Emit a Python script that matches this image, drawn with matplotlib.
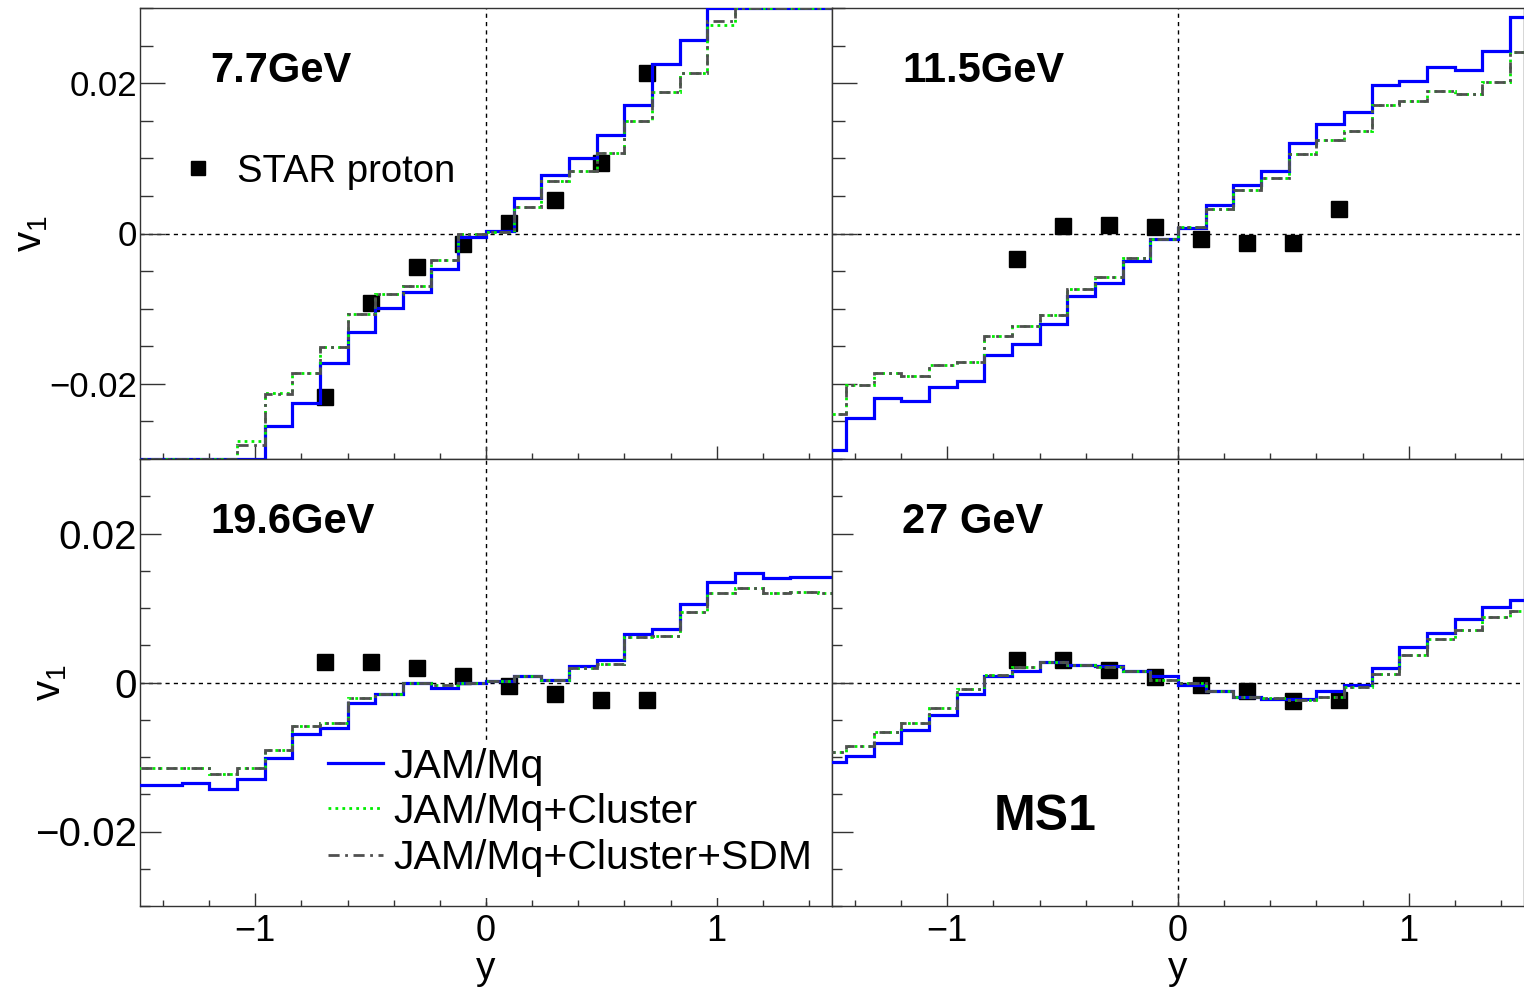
import numpy as np
import matplotlib
matplotlib.use('Agg')
from matplotlib import pyplot as plt
from matplotlib.ticker import MultipleLocator, FixedLocator
from matplotlib.patches import Rectangle

#-- DATA
# bin edges of the model histograms (k*0.12, k=-13..13)
edges = np.arange(-13, 14) * 0.12
y_star = [-0.7, -0.5, -0.3, -0.1, 0.1, 0.3, 0.5, 0.7]
energies = ['7.7GeV', '11.5GeV', '19.6GeV', '27 GeV']

# 7.7 GeV
jam_77 = [-0.036, -0.035, -0.034, -0.033, -0.032, -0.0256, -0.0225, -0.0172, -0.0131, -0.0099, -0.0078, -0.0047, -0.0004,
          0.0003, 0.0047, 0.0078, 0.0100, 0.0131, 0.0171, 0.0225, 0.0258, 0.032, 0.034, 0.035, 0.036, 0.037]
clu_77 = [-0.033, -0.032, -0.032, -0.031, -0.0276, -0.0212, -0.0185, -0.0151, -0.0107, -0.0081, -0.0070, -0.0035, -0.0001,
          0.0002, 0.0035, 0.0070, 0.0083, 0.0107, 0.0150, 0.0188, 0.0214, 0.0277, 0.031, 0.032, 0.033, 0.034]
sdm_77 = [-0.033, -0.032, -0.032, -0.031, -0.0282, -0.0214, -0.0186, -0.0151, -0.0107, -0.0081, -0.0070, -0.0035, -0.0001,
          0.0002, 0.0035, 0.0070, 0.0083, 0.0107, 0.0150, 0.0188, 0.0214, 0.0283, 0.031, 0.032, 0.033, 0.034]
star_77 = [-0.0218, -0.0093, -0.0044, -0.0014, 0.0014, 0.0044, 0.0094, 0.0214]

# 11.5 GeV
jam_115 = [-0.0288, -0.0245, -0.0219, -0.0223, -0.0204, -0.0196, -0.0161, -0.0147, -0.0121, -0.0083, -0.0066, -0.0037, -0.0007,
           0.0007, 0.0038, 0.0065, 0.0083, 0.0120, 0.0146, 0.0161, 0.0198, 0.0203, 0.0222, 0.0218, 0.0243, 0.0288]
clu_115 = [-0.0240, -0.0202, -0.0185, -0.0190, -0.0175, -0.0171, -0.0136, -0.0123, -0.0108, -0.0074, -0.0058, -0.0032, -0.0007,
           0.0008, 0.0032, 0.0058, 0.0074, 0.0106, 0.0124, 0.0137, 0.0171, 0.0176, 0.0189, 0.0185, 0.0202, 0.0241]
sdm_115 = [-0.0240, -0.0202, -0.0185, -0.0190, -0.0175, -0.0171, -0.0136, -0.0123, -0.0108, -0.0074, -0.0058, -0.0032, -0.0007,
           0.0008, 0.0032, 0.0058, 0.0074, 0.0106, 0.0124, 0.0137, 0.0171, 0.0176, 0.0189, 0.0185, 0.0202, 0.0241]
star_115 = [-0.0034, 0.0010, 0.0011, 0.0008, -0.0007, -0.0012, -0.0012, 0.0032]

# 19.6 GeV
jam_196 = [-0.0138, -0.0138, -0.0135, -0.0143, -0.0130, -0.0101, -0.0069, -0.0061, -0.0027, -0.0016, 0.0000, -0.0007, 0.0000,
           0.0002, 0.0009, 0.0004, 0.0022, 0.0030, 0.0065, 0.0072, 0.0105, 0.0135, 0.0147, 0.0140, 0.0141, 0.0141]
clu_196 = [-0.0115, -0.0115, -0.0115, -0.0123, -0.0115, -0.0090, -0.0059, -0.0055, -0.0021, -0.0016, 0.0000, -0.0004, 0.0000,
           0.0002, 0.0009, 0.0004, 0.0020, 0.0025, 0.0061, 0.0063, 0.0095, 0.0120, 0.0127, 0.0120, 0.0121, 0.0120]
sdm_196 = [-0.0115, -0.0115, -0.0115, -0.0123, -0.0115, -0.0090, -0.0059, -0.0055, -0.0021, -0.0016, 0.0000, -0.0004, 0.0000,
           0.0002, 0.0009, 0.0004, 0.0020, 0.0025, 0.0061, 0.0063, 0.0095, 0.0120, 0.0127, 0.0120, 0.0121, 0.0120]
star_196 = [0.0027, 0.0028, 0.0019, 0.0009, -0.0005, -0.0016, -0.0023, -0.0023]

# 27 GeV
jam_27 = [-0.0107, -0.0099, -0.0081, -0.0064, -0.0044, -0.0016, 0.0009, 0.0016, 0.0027, 0.0024, 0.0022, 0.0016, 0.0009,
          -0.0004, -0.0012, -0.0020, -0.0022, -0.0022, -0.0012, -0.0004, 0.0020, 0.0048, 0.0067, 0.0085, 0.0101, 0.0111]
clu_27 = [-0.0093, -0.0085, -0.0067, -0.0055, -0.0034, -0.0009, 0.0010, 0.0021, 0.0027, 0.0024, 0.0021, 0.0016, 0.0004,
          -0.0001, -0.0012, -0.0019, -0.0021, -0.0023, -0.0019, -0.0006, 0.0012, 0.0037, 0.0058, 0.0071, 0.0088, 0.0096]
sdm_27 = [-0.0093, -0.0085, -0.0067, -0.0055, -0.0034, -0.0009, 0.0010, 0.0021, 0.0027, 0.0024, 0.0021, 0.0016, 0.0004,
          -0.0001, -0.0012, -0.0019, -0.0021, -0.0023, -0.0019, -0.0006, 0.0012, 0.0037, 0.0058, 0.0071, 0.0088, 0.0096]
star_27 = [0.0030, 0.0030, 0.0017, 0.0008, -0.0004, -0.0011, -0.0025, -0.0023]

jam = [jam_77, jam_115, jam_196, jam_27]
clu = [clu_77, clu_115, clu_196, clu_27]
sdm = [sdm_77, sdm_115, sdm_196, sdm_27]
star = [star_77, star_115, star_196, star_27]

labels = ['JAM/Mq', 'JAM/Mq+Cluster', 'JAM/Mq+Cluster+SDM']

#-- STYLE
plt.rcParams['font.family'] = ['Liberation Sans', 'DejaVu Sans']
plt.rcParams['mathtext.fontset'] = 'custom'
plt.rcParams['mathtext.rm'] = 'Liberation Sans'
plt.rcParams['axes.linewidth'] = 1.0
plt.rcParams['axes.edgecolor'] = '#333333'

YMIN, YMAX = -0.03, 0.03
c_jam = '#0000ff'
c_clu = '#00ee00'
c_sdm = '#505050'

fig = plt.figure(figsize=(15.24, 9.91), dpi=100)
W, H = 1524., 991.
pos = [(140, 8, 692, 451), (832, 8, 692, 451), (140, 459, 692, 447), (832, 459, 692, 447)]

for i in range(4):
    x0, y0, w, h = pos[i]
    ax = fig.add_axes([x0 / W, 1 - (y0 + h) / H, w / W, h / H])
    top = i < 2
    left = i % 2 == 0

    # histograms, values outside the frame are drawn on the frame edge
    ax.stairs(np.clip(jam[i], YMIN, YMAX), edges, color=c_jam, lw=2.3, zorder=3)
    ax.stairs(np.clip(clu[i], YMIN, YMAX), edges, color=c_clu, lw=2.0, ls=(0, (1, 1.5)), zorder=4)
    ax.stairs(np.clip(sdm[i], YMIN, YMAX), edges, color=c_sdm, lw=2.0, ls=(0, (4, 2, 1, 2)), zorder=5)
    ax.plot(y_star, star[i], 's', color='black', ms=11.5, zorder=2)

    ax.axhline(0, color='black', lw=1, ls=(0, (3, 3)), zorder=1)
    ax.axvline(0, color='black', lw=1, ls=(0, (3, 3)), zorder=1)

    ax.set_xlim(-1.5, 1.5)
    ax.set_ylim(YMIN, YMAX)
    ax.xaxis.set_major_locator(FixedLocator([-1, 0, 1]))
    ax.xaxis.set_minor_locator(MultipleLocator(0.2))
    ax.yaxis.set_major_locator(FixedLocator([-0.02, 0, 0.02]))
    ax.yaxis.set_minor_locator(MultipleLocator(0.005))

    ysz = 25 if top else 29
    ymaj = 18 if top else 15
    ax.tick_params(axis='y', which='major', direction='in', length=ymaj, width=1, pad=2, labelsize=ysz, colors='#333333', labelcolor='black')
    ax.tick_params(axis='y', which='minor', direction='in', length=ymaj / 2, width=1, colors='#333333')
    ax.tick_params(axis='x', which='major', direction='in', length=9.5, width=1, pad=6, labelsize=26, colors='#333333', labelcolor='black')
    ax.tick_params(axis='x', which='minor', direction='in', length=4.5, width=1, colors='#333333')

    ax.yaxis.set_major_formatter(plt.FuncFormatter(lambda v, p: '0' if abs(v) < 1e-9 else ('%.2f' % v).replace('-', '\u2212')))
    ax.xaxis.set_major_formatter(plt.FuncFormatter(lambda v, p: ('%d' % round(v)).replace('-', '\u2212')))

    if not left:
        ax.tick_params(axis='y', labelleft=False)
    else:
        ax.set_ylabel(r'$\mathrm{v_{1}}$', fontsize=29)
        if top:
            ax.yaxis.set_label_coords(-0.130, 0.5)
        else:
            ax.yaxis.set_label_coords(-0.103, 0.5)
    if top:
        ax.tick_params(axis='x', labelbottom=False)
    else:
        ax.set_xlabel('y', fontsize=28, labelpad=1)

    ax.text(0.101, 0.836 if top else 0.834, energies[i], transform=ax.transAxes,
            fontsize=30, fontweight='bold', va='baseline', ha='left')

    if i == 0:
        ax.plot([0.0838], [0.645], 's', color='black', ms=9.5, transform=ax.transAxes, clip_on=False)
        ax.text(0.140, 0.615, 'STAR proton', transform=ax.transAxes, fontsize=27.5, va='baseline', ha='left')

    if i == 2:
        # legend box (white fill, no border) hides the dashed line behind it
        ax.add_patch(Rectangle((0.255, 0.018), 0.72, 0.35, transform=ax.transAxes,
                               facecolor='white', edgecolor='none', zorder=6))
        styles = [dict(color=c_jam, lw=2.3), dict(color=c_clu, lw=2.0, ls=(0, (1, 1.5))),
                  dict(color=c_sdm, lw=2.0, ls=(0, (4, 2, 1, 2)))]
        ly = [0.320, 0.219, 0.114]
        by = [0.286, 0.186, 0.083]
        for j in range(3):
            ax.plot([0.272, 0.351], [ly[j], ly[j]], transform=ax.transAxes, zorder=7, **styles[j])
            ax.text(0.366, by[j], labels[j], transform=ax.transAxes, fontsize=29.5, va='baseline', ha='left', zorder=7)

    if i == 3:
        ax.text(0.234, 0.170, 'MS1', transform=ax.transAxes, fontsize=36, fontweight='bold', va='baseline', ha='left')

plt.savefig('out.png', dpi=100)
